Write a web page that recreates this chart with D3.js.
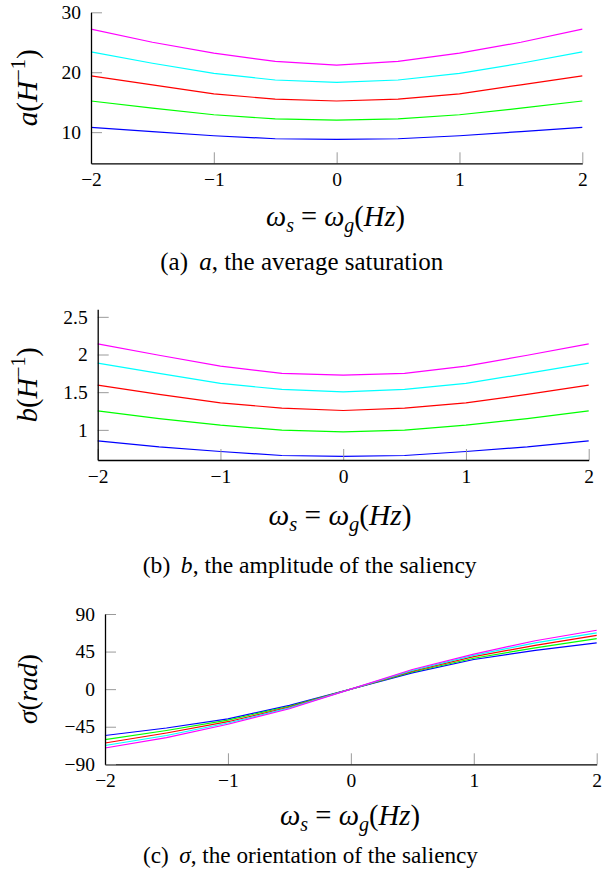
<!DOCTYPE html>
<html>
<head>
<meta charset="utf-8">
<script src="https://cdn.jsdelivr.net/npm/d3@7"></script>
<style>
  body { margin: 0; background: #fff; }
  svg { display: block; }
</style>
</head>
<body>
<svg id="chart" width="609" height="882"></svg>
<script>
/* globals d3 */
var xs = [-2, -1.5, -1, -0.5, 0, 0.5, 1, 1.5, 2];
var xTicks = [-2, -1, 0, 1, 2];
var colors = ["#0000ff", "#00ff00", "#ff0000", "#00ffff", "#ff00ff"];

// (a) average saturation
var aBlue    = [10.8, 10.1, 9.4, 8.9, 8.8, 8.9, 9.4, 10.1, 10.8];
var aGreen   = [15.2, 14.0, 12.9, 12.2, 12.0, 12.2, 12.9, 14.0, 15.2];
var aRed     = [19.4, 17.9, 16.4, 15.5, 15.2, 15.5, 16.4, 17.9, 19.4];
var aCyan    = [23.4, 21.5, 19.8, 18.7, 18.3, 18.7, 19.8, 21.5, 23.4];
var aMagenta = [27.2, 25.0, 23.2, 21.8, 21.2, 21.8, 23.2, 25.0, 27.2];
var aTicks = [10, 20, 30];

// (b) amplitude of the saliency
var bBlue    = [0.854, 0.774, 0.713, 0.66, 0.647, 0.66, 0.713, 0.774, 0.854];
var bGreen   = [1.252, 1.15, 1.062, 0.996, 0.973, 0.996, 1.062, 1.15, 1.252];
var bRed     = [1.593, 1.47, 1.358, 1.288, 1.257, 1.288, 1.358, 1.47, 1.593];
var bCyan    = [1.885, 1.75, 1.616, 1.536, 1.505, 1.536, 1.616, 1.75, 1.885];
var bMagenta = [2.14, 1.99, 1.846, 1.75, 1.726, 1.75, 1.846, 1.99, 2.14];
var bTicks = [1, 1.5, 2, 2.5];

// (c) orientation of the saliency
var cBlue    = [-55.5, -46.5, -35.5, -19.5, 0, 19.5, 35.5, 46.5, 55.5];
var cGreen   = [-60.5, -49.5, -37, -20.5, 0, 20.5, 37, 49.5, 60.5];
var cRed     = [-64.5, -52.5, -39, -21.5, 0, 21.5, 39, 52.5, 64.5];
var cCyan    = [-67.5, -55.5, -40.5, -22.5, 0, 22.5, 40.5, 55.5, 67.5];
var cMagenta = [-70.5, -58, -42, -23.5, 0, 23.5, 42, 58, 70.5];
var cTicks = [-90, -45, 0, 45, 90];

var serif = "'Liberation Serif', 'Times New Roman', serif";
var fmt = d3.format("");

var svg = d3.select("#chart");

// text made of upright / italic / sub / sup pieces, scaled to a target length
function richText(parent, segs, opt) {
  var t = parent.append("text")
    .attr("font-family", serif)
    .attr("fill", "#000")
    .attr("text-anchor", "middle")
    .attr("transform", "translate(" + opt.x + "," + opt.y + ")" + (opt.rotate ? " rotate(" + opt.rotate + ")" : ""));
  var fill = function(size) {
    t.selectAll("tspan").remove();
    var shift = 0;
    segs.forEach(function(s) {
      var off = s.sub ? 0.22 * size : s.sup ? -0.42 * size : 0;
      t.append("tspan")
        .attr("font-size", (s.sub || s.sup) ? size * 0.7 : size)
        .attr("font-style", s.i ? "italic" : null)
        .attr("dy", off - shift)
        .text(s.t);
      shift = off;
    });
  };
  fill(opt.size);
  if (opt.width) fill(opt.size * opt.width / t.node().getComputedTextLength());
  return t;
}

var xLabel = [{t: "ω", i: 1}, {t: "s", i: 1, sub: 1}, {t: "\u00a0=\u00a0"}, {t: "ω", i: 1}, {t: "g", i: 1, sub: 1},
  {t: "("}, {t: "H", i: 1}, {t: "z", i: 1}, {t: ")"}];

var panels = [
  { left: 91, right: 582.3, top: 12.3, bottom: 163.3, yDomain: [4.8, 30], yTicks: aTicks,
    series: [aBlue, aGreen, aRed, aCyan, aMagenta],
    yLabel: [{t: "a", i: 1}, {t: "("}, {t: "H", i: 1}, {t: "−1", sup: 1}, {t: ")"}], yLabelW: 77,
    xLabelPos: [335.5, 226, 139],
    caption: [{t: "(a)\u00a0\u2009"}, {t: "a", i: 1}, {t: ", the average saturation"}], capPos: [301.7, 270, 283] },
  { left: 97.7, right: 588.7, top: 309.3, bottom: 460, yDomain: [0.6, 2.6], yTicks: bTicks,
    series: [bBlue, bGreen, bRed, bCyan, bMagenta],
    yLabel: [{t: "b", i: 1}, {t: "("}, {t: "H", i: 1}, {t: "−1", sup: 1}, {t: ")"}], yLabelW: 75,
    xLabelPos: [340, 525, 143],
    caption: [{t: "(b)\u00a0\u2009"}, {t: "b", i: 1}, {t: ", the amplitude of the saliency"}], capPos: [309.7, 573, 334] },
  { left: 105, right: 596.7, top: 614, bottom: 764.3, yDomain: [-90, 90], yTicks: cTicks,
    series: [cBlue, cGreen, cRed, cCyan, cMagenta],
    yLabel: [{t: "σ", i: 1}, {t: "("}, {t: "r", i: 1}, {t: "a", i: 1}, {t: "d", i: 1}, {t: ")"}], yLabelW: 70,
    xLabelPos: [350, 825, 140],
    caption: [{t: "(c)\u00a0\u2009"}, {t: "σ", i: 1}, {t: ", the orientation of the saliency"}], capPos: [310.5, 863, 335] }
];

var styleAxis = function(g) {
  g.selectAll(".tick line").attr("stroke", "#9a9a9a").attr("stroke-width", 1);
  g.selectAll(".tick text").attr("font-family", serif).attr("font-size", 19.5).attr("fill", "#000");
  g.select(".domain").attr("stroke", "#000").attr("stroke-width", 1.3).raise();
};

panels.forEach(function(p) {
  var x = d3.scaleLinear().domain([-2, 2]).range([p.left, p.right]);
  var y = d3.scaleLinear().domain(p.yDomain).range([p.bottom, p.top]);
  var g = svg.append("g");

  var line = d3.line()
    .x((d, i) => x(xs[i]))
    .y(d => y(d));

  p.series.forEach(function(s, k) {
    g.append("path")
      .attr("fill", "none")
      .attr("stroke", colors[k])
      .attr("stroke-width", 1.2)
      .attr("stroke-linejoin", "round")
      .attr("d", line(s));
  });

  g.append("g")
      .attr("transform", "translate(0," + p.bottom + ")")
      .call(d3.axisBottom(x).tickValues(xTicks).tickFormat(fmt).tickSize(-11).tickSizeOuter(0).tickPadding(9))
      .call(styleAxis);

  g.append("g")
      .attr("transform", "translate(" + p.left + ",0)")
      .call(d3.axisLeft(y).tickValues(p.yTicks).tickFormat(fmt).tickSize(-11).tickSizeOuter(0).tickPadding(10))
      .call(styleAxis);

  richText(g, p.yLabel, { x: 37, y: (p.top + p.bottom) / 2, rotate: -90, size: 24, width: p.yLabelW });
  richText(g, xLabel, { x: p.xLabelPos[0], y: p.xLabelPos[1], size: 24, width: p.xLabelPos[2] });
  richText(g, p.caption, { x: p.capPos[0], y: p.capPos[1], size: 22, width: p.capPos[2] });
});
</script>
</body>
</html>
